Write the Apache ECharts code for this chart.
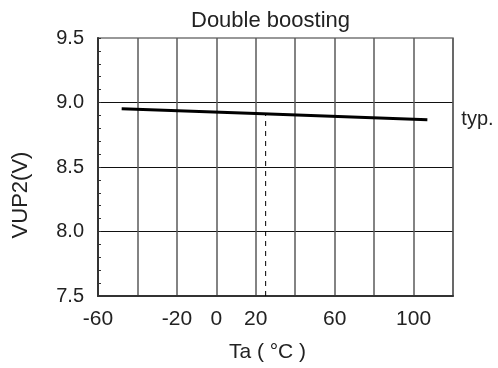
<!DOCTYPE html>
<html>
<head>
<meta charset="utf-8">
<script src="https://cdn.jsdelivr.net/npm/echarts@6/dist/echarts.min.js"></script>
<style>
html,body{margin:0;padding:0;background:#fff;}
#chart{width:498px;height:368px;}
</style>
</head>
<body>
<div id="chart"></div>
<script>
// Data
var titleText = 'Double boosting';
var xName = 'Ta ( \u00B0C )';
var yName = 'VUP2(V)';
var typTemps = [-48, 20, 107];          // Ta (°C)
var typVoltages = [8.952, 8.915, 8.867]; // VUP2 (V)
var markerTemp = [25, 25];
var markerVolt = [7.5, 8.905];
var xTickLabels = [-60, -20, 0, 20, 60, 100];
var yMin = 7.5, yMax = 9.5, yStep = 0.5;
var xMin = -60, xMax = 120, xStep = 20;

var font = '"Liberation Sans", Arial, sans-serif';
var chart = echarts.init(document.getElementById('chart'), null, {renderer: 'canvas'});

var typData = typTemps.map(function (t, i) { return [t, typVoltages[i]]; });
var markerData = markerTemp.map(function (t, i) { return [t, markerVolt[i]]; });

chart.setOption({
  animation: false,
  backgroundColor: '#fff',
  textStyle: {fontFamily: font},
  title: {
    text: titleText,
    left: 186,
    top: 5,
    textStyle: {fontFamily: font, fontSize: 22, fontWeight: 'normal', color: '#222'}
  },
  grid: {
    left: 98, right: 45, top: 38, bottom: 72,
    show: true, borderColor: '#777', borderWidth: 1.5, backgroundColor: 'transparent'
  },
  xAxis: {
    type: 'value',
    min: xMin, max: xMax, interval: xStep,
    name: xName,
    nameLocation: 'middle',
    nameGap: 46,
    nameTextStyle: {fontFamily: font, fontSize: 21, color: '#222', padding: [0, 16, 0, 0]},
    axisLine: {show: true, onZero: false, lineStyle: {color: '#333', width: 2}},
    axisTick: {show: false},
    axisLabel: {
      margin: 13,
      fontFamily: font, fontSize: 21, color: '#222',
      formatter: function (v) { return xTickLabels.indexOf(v) >= 0 ? String(v) : ''; }
    },
    splitLine: {show: true, lineStyle: {color: '#5a5a5a', width: 1.5}}
  },
  yAxis: {
    type: 'value',
    min: yMin, max: yMax, interval: yStep,
    name: yName,
    nameLocation: 'middle',
    nameGap: 66,
    nameTextStyle: {fontFamily: font, fontSize: 22, color: '#222', padding: [0, 56, 0, 0]},
    axisLine: {show: true, onZero: false, lineStyle: {color: '#333', width: 2}},
    axisTick: {show: true, inside: true, length: 3, lineStyle: {color: '#333', width: 1}},
    minorTick: {show: true, splitNumber: 5, length: 3, lineStyle: {color: '#333', width: 1}},
    axisLabel: {
      margin: 14,
      fontFamily: font, fontSize: 20, color: '#222',
      formatter: function (v) { return v.toFixed(1); }
    },
    splitLine: {show: true, showMaxLine: false, lineStyle: {color: '#111', width: 1}}
  },
  series: [
    {
      type: 'line',
      data: typData,
      symbol: 'none',
      lineStyle: {color: '#000', width: 3},
      endLabel: {
        show: true,
        formatter: 'typ.',
        distance: 34,
        fontFamily: font, fontSize: 20, color: '#222'
      },
      z: 5
    },
    {
      type: 'line',
      data: markerData,
      symbol: 'none',
      lineStyle: {color: '#000', width: 1, type: [5, 5]},
      z: 4
    }
  ]
});
</script>
</body>
</html>
